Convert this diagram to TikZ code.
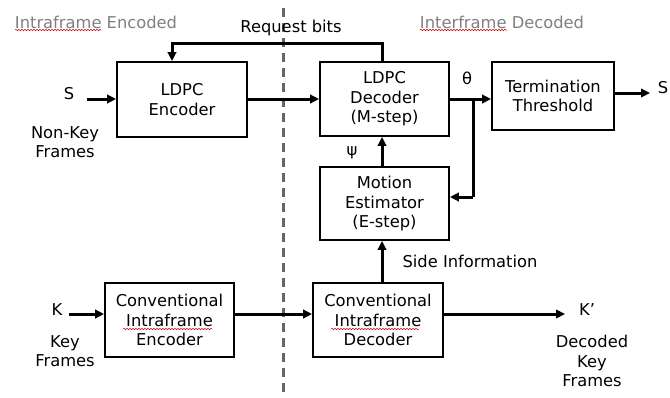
\documentclass[tikz,border=0pt]{standalone}
\usepackage{fontspec}
\setmainfont{DejaVu Sans}
\usetikzlibrary{arrows.meta,decorations.pathmorphing}

\tikzset{
  txt/.style={font=\fontsize{16.3}{19.5}\selectfont},
  blk/.style={draw, line width=1.8pt, align=center, inner sep=0pt, txt},
  lbl/.style={align=center, inner sep=0pt, txt},
  hdr/.style={inner sep=0pt, text=black!50, txt},
  flow/.style={line width=3pt, -{Triangle[length=9pt,width=8.5pt]}},
  wire/.style={line width=3pt},
  divider/.style={line width=3pt, black!60, dash pattern=on 9pt off 6pt},
  spell/.style={red!80!black, line width=0.5pt, decorate,
    decoration={snake, amplitude=0.7pt, segment length=3pt}}
}

\begin{document}
\begin{tikzpicture}[x=1pt,y=-1pt]
  \useasboundingbox[fill=white] (0,0) rectangle (670,397);

  % encoder / decoder split
  \draw[divider] (283,8) -- (283,397);
  \node[hdr] (hl) at (96,22) {Intraframe Encoded};
  \node[hdr] (hr) at (502,22) {Interframe Decoded};
  \draw[spell] (15,30) -- (101,30);
  \draw[spell] (420,30) -- (507,30);

  % processing blocks
  \node[blk, minimum width=130pt, minimum height=75pt] (enc)  at (182,99.5) {LDPC\\Encoder};
  \node[blk, minimum width=129pt, minimum height=74pt] (dec)  at (384.5,99) {LDPC\\Decoder\\(M-step)};
  \node[blk, minimum width=122pt, minimum height=68pt] (term) at (553,96) {Termination\\Threshold};
  \node[blk, minimum width=129pt, minimum height=73pt] (mot)  at (384.5,203.5) {Motion\\Estimator\\(E-step)};
  \node[blk, minimum width=129pt, minimum height=74pt] (cenc) at (169.5,320) {Conventional\\Intraframe\\Encoder};
  \node[blk, minimum width=130pt, minimum height=74pt] (cdec) at (378,320) {Conventional\\Intraframe\\Decoder};
  \draw[spell] (123,329) -- (212,329);
  \draw[spell] (331,329) -- (419,329);

  % signal labels
  \node[lbl] (sin)  at (69,94) {S};
  \node[lbl] (nkf)  at (65,142) {Non-Key\\Frames};
  \node[lbl] (sout) at (663,88) {S};
  \node[lbl] (th)   at (467,78) {θ};
  \node[lbl] (psi)  at (352,153) {ψ};
  \node[lbl] (rb)   at (291,28) {Request bits};
  \node[lbl] (si)   at (470,261) {Side Information};
  \node[lbl] (kin)  at (57,310) {K};
  \node[lbl] (kf)   at (65,351) {Key\\Frames};
  \node[lbl] (kout) at (587,310) {K’};
  \node[lbl] (dkf)  at (592,361) {Decoded\\Key\\Frames};

  % connector anchors
  \coordinate (sstart) at (87,99);
  \coordinate (send)   at (650,93);
  \coordinate (rq)     at (172,43);
  \coordinate (br)     at (473,99);
  \coordinate (brlow)  at (473,197);
  \coordinate (kstart) at (69,314);
  \coordinate (kend)   at (565,314);

  % non-key frame path
  \draw[flow] (sstart) -- (sstart -| enc.west);
  \draw[flow] (enc.east |- sstart) -- (dec.west |- sstart);
  \draw[flow] (dec.east |- br) -- (term.west |- br);
  \draw[flow] (term.east |- send) -- (send);
  \draw[wire] (br) -- (brlow);
  \draw[flow] (brlow) -- (brlow -| mot.east);
  \draw[flow] (mot.north -| 382,0) -- (dec.south -| 382,0);
  \draw[flow, line join=miter] (dec.north -| 382,0) -- (382,43) -- (rq) -- (rq |- enc.north);

  % key frame path
  \draw[flow] (kstart) -- (kstart -| cenc.west);
  \draw[flow] (cenc.east |- kstart) -- (cdec.west |- kstart);
  \draw[flow] (cdec.east |- kstart) -- (kend);
  \draw[flow] (cdec.north -| 382,0) -- (mot.south -| 382,0);
\end{tikzpicture}
\end{document}
